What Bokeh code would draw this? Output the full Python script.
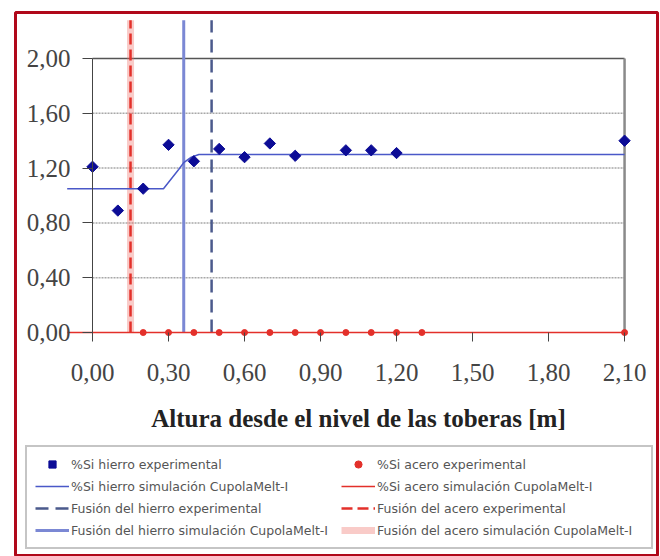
from bokeh.plotting import figure
from bokeh.models import (Range1d, LinearAxis, FixedTicker, CustomJSTickFormatter,
                          Legend, LegendItem)
from bokeh.embed import file_html
from bokeh.resources import INLINE
import math

# ---------------- data ----------------
x_ticks = [0.00, 0.30, 0.60, 0.90, 1.20, 1.50, 1.80, 2.10]
y_ticks = [0.00, 0.40, 0.80, 1.20, 1.60, 2.00]

# %Si hierro experimental
x_fe_exp = [0.00, 0.10, 0.20, 0.30, 0.40, 0.50, 0.60, 0.70, 0.80, 1.00, 1.10, 1.20, 2.10]
si_fe_exp = [1.21, 0.89, 1.05, 1.37, 1.25, 1.34, 1.28, 1.38, 1.29, 1.33, 1.33, 1.31, 1.40]

# %Si acero experimental
x_st_exp = [0.20, 0.30, 0.40, 0.50, 0.60, 0.70, 0.80, 0.90, 1.00, 1.10, 1.20, 1.30, 2.10]
si_st_exp = [0.00, 0.00, 0.00, 0.00, 0.00, 0.00, 0.00, 0.00, 0.00, 0.00, 0.00, 0.00, 0.00]

# %Si hierro simulacion CupolaMelt-I
x_fe_sim = [-0.10, 0.28, 0.34, 0.36, 0.39, 0.42, 2.10]
si_fe_sim = [1.05, 1.05, 1.19, 1.24, 1.28, 1.30, 1.30]

# %Si acero simulacion CupolaMelt-I
x_st_sim = [-0.10, 2.10]
si_st_sim = [0.00, 0.00]

# melting heights [m]
fusion_fe_exp = [0.47]
fusion_fe_sim = [0.36]
fusion_st_exp = [0.15]
fusion_st_sim = [0.15]

labels = {
    "fe_exp": "%Si hierro experimental",
    "fe_sim": "%Si hierro simulación CupolaMelt-I",
    "fe_fus_exp": "Fusión del hierro experimental",
    "fe_fus_sim": "Fusión del hierro simulación CupolaMelt-I",
    "st_exp": "%Si acero experimental",
    "st_sim": "%Si acero simulación CupolaMelt-I",
    "st_fus_exp": "Fusión del acero experimental",
    "st_fus_sim": "Fusión del acero simulación CupolaMelt-I",
}

# ---------------- figure ----------------
BLUE_PT = "#0c0c96"
BLUE_LN = "#4a58c8"
RED = "#e3302a"
V_TOP = 2.28

p = figure(width=660, height=556, output_backend="svg", toolbar_location=None,
           x_range=Range1d(-0.304, 2.230), y_range=Range1d(-1.635, 2.336),
           x_axis_type=None, y_axis_type=None,
           min_border_left=15, min_border_right=3, min_border_top=12, min_border_bottom=0,
           background_fill_color="white", border_fill_color="white")
p.outline_line_color = "#b0081a"
p.outline_line_width = 3

# grid (dotted) and plot-area frame lines
p.segment(x0=x_ticks[0], x1=x_ticks[-1], y0=y_ticks[1:-1], y1=y_ticks[1:-1],
          line_color="#a8a8a8", line_width=1.5, line_dash="2 1")
p.segment(x0=x_ticks[0], x1=x_ticks[-1], y0=y_ticks[-1], y1=y_ticks[-1],
          line_color="#555555", line_width=1.5)
p.segment(x0=x_ticks[-1], x1=x_ticks[-1], y0=y_ticks[0], y1=y_ticks[-1],
          line_color="#8a8a8a", line_width=2.5)

# melting lines
r_st_fus_sim = p.segment(x0=fusion_st_sim, x1=fusion_st_sim, y0=0, y1=V_TOP,
                         line_color="#ee6a60", line_alpha=0.35, line_width=7)
r_st_fus_exp = p.segment(x0=fusion_st_exp, x1=fusion_st_exp, y0=0, y1=V_TOP,
                         line_color=RED, line_width=2.5, line_dash="11 5")
r_fe_fus_sim = p.segment(x0=fusion_fe_sim, x1=fusion_fe_sim, y0=0, y1=V_TOP,
                         line_color="#7b88d4", line_width=3)
r_fe_fus_exp = p.segment(x0=fusion_fe_exp, x1=fusion_fe_exp, y0=0, y1=V_TOP,
                         line_color="#4b5a8c", line_width=2.5, line_dash="13 7")

# simulation curves
r_st_sim = p.line(x_st_sim, si_st_sim, line_color=RED, line_width=1.5)
r_fe_sim = p.line(x_fe_sim, si_fe_sim, line_color=BLUE_LN, line_width=1.5)

# experimental points
r_st_exp = p.scatter(x_st_exp, si_st_exp, marker="circle", size=6,
                     fill_color=RED, line_color=RED)
r_fe_exp = p.scatter(x_fe_exp, si_fe_exp, marker="square", size=8, angle=math.pi / 4,
                     fill_color=BLUE_PT, line_color=BLUE_PT)

# axes
fmt = CustomJSTickFormatter(code="return tick.toFixed(2).replace('.', ',');")
common = dict(major_tick_in=0, minor_tick_in=0, minor_tick_out=0,
              major_tick_line_color="#444444",
              major_label_text_font="Liberation Serif",
              major_label_text_font_size="25px",
              major_label_text_color="#444444")
yaxis = LinearAxis(fixed_location=0, bounds=(y_ticks[0], y_ticks[-1]),
                   ticker=FixedTicker(ticks=y_ticks), formatter=fmt,
                   major_tick_out=10, major_label_standoff=12,
                   axis_line_color="#444444", **common)
xaxis = LinearAxis(fixed_location=0, bounds=(x_ticks[0], x_ticks[-1]),
                   ticker=FixedTicker(ticks=x_ticks), formatter=fmt,
                   major_tick_out=9, major_label_standoff=22,
                   axis_line_color=None,
                   axis_label="Altura desde el nivel de las toberas [m]",
                   axis_label_text_font="Liberation Serif",
                   axis_label_text_font_style="bold",
                   axis_label_text_font_size="25px",
                   axis_label_text_color="#222222",
                   axis_label_standoff=21, **common)
p.add_layout(yaxis, "left")
p.add_layout(xaxis, "below")

legend = Legend(items=[
    LegendItem(label=labels["fe_exp"], renderers=[r_fe_exp]),
    LegendItem(label=labels["fe_sim"], renderers=[r_fe_sim]),
    LegendItem(label=labels["fe_fus_exp"], renderers=[r_fe_fus_exp]),
    LegendItem(label=labels["fe_fus_sim"], renderers=[r_fe_fus_sim]),
    LegendItem(label=labels["st_exp"], renderers=[r_st_exp]),
    LegendItem(label=labels["st_sim"], renderers=[r_st_sim]),
    LegendItem(label=labels["st_fus_exp"], renderers=[r_st_fus_exp]),
    LegendItem(label=labels["st_fus_sim"], renderers=[r_st_fus_sim]),
], location=(10, 7), ncols=2, orientation="vertical",
    border_line_color="#8c8c8c", border_line_width=2,
    background_fill_color="white", background_fill_alpha=1,
    label_text_font="DejaVu Sans", label_text_font_size="12.5px",
    label_text_color="#555555",
    glyph_width=34, glyph_height=18, label_height=18, label_width=266,
    label_standoff=2, padding=8, spacing=4, margin=0)
p.add_layout(legend)

open("out.html", "w").write(file_html(p, INLINE))
